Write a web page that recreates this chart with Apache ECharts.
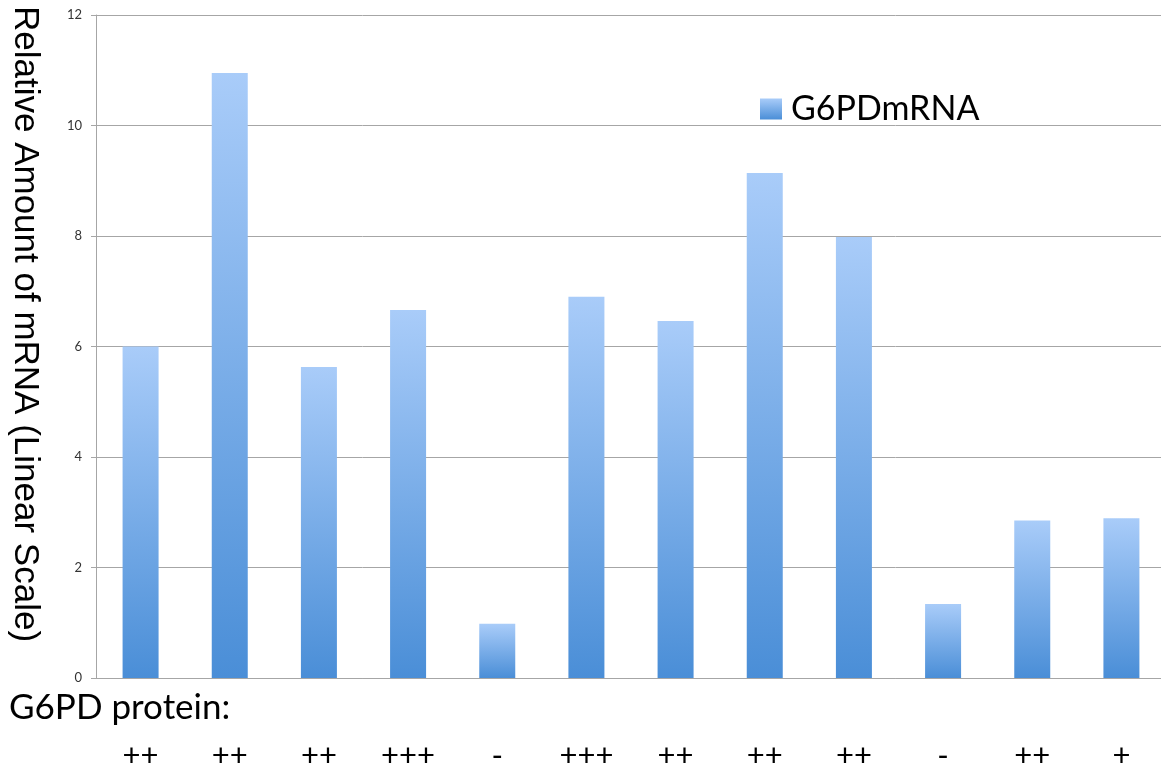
<!DOCTYPE html>
<html>
<head>
<meta charset="utf-8">
<title>G6PD mRNA</title>
<script src="https://cdn.jsdelivr.net/npm/echarts@6/dist/echarts.min.js"></script>
<style>
  html, body { margin: 0; padding: 0; background: #ffffff; overflow: hidden; }
  #chart { width: 1161px; height: 769px; }
</style>
</head>
<body>
<div id="chart"></div>
<script>
// G6PD protein level for each sample (x-axis labels)
const proteinLevels = ['++', '++', '++', '+++', '-', '+++', '++', '++', '++', '-', '++', '+'];
// Relative amount of G6PD mRNA per sample
const mrnaValues = [6.0, 10.95, 5.63, 6.66, 0.98, 6.90, 6.46, 9.14, 7.98, 1.34, 2.85, 2.89];
// Value axis ticks
const yTicks = [0, 2, 4, 6, 8, 10, 12];

const seriesName = 'G6PDmRNA';
const yTitle = 'Relative Amount of mRNA (Linear Scale)';
const xTitle = 'G6PD protein:';

const chart = echarts.init(document.getElementById('chart'), null, { renderer: 'canvas' });

const barFill = new echarts.graphic.LinearGradient(0, 0, 0, 1, [
  { offset: 0, color: '#a9ccf9' },
  { offset: 1, color: '#4a8ed7' }
]);

chart.setOption({
  backgroundColor: '#ffffff',
  animation: false,
  // the plot runs slightly past the right edge of the canvas
  grid: {
    left: 96, top: 15, width: 1070, height: 663,
    containLabel: false,
    outerBoundsMode: 'none'
  },
  legend: {
    data: [seriesName],
    left: 760,
    top: 92,
    padding: 0,
    itemWidth: 22,
    itemHeight: 21,
    itemGap: 10,
    icon: 'rect',
    textStyle: { fontFamily: 'Lato', fontSize: 34, color: '#000000', padding: [2, 0, 0, 4] }
  },
  xAxis: {
    type: 'category',
    data: proteinLevels,
    axisLine: { show: true, lineStyle: { color: '#a6a6a6', width: 1 } },
    axisTick: { show: false },
    axisLabel: {
      interval: 0,
      margin: 62,
      fontFamily: 'Lato',
      fontSize: 31,
      color: '#000000'
    },
    splitLine: { show: false }
  },
  yAxis: {
    type: 'value',
    min: yTicks[0],
    max: yTicks[yTicks.length - 1],
    interval: 2,
    axisLine: { show: true, lineStyle: { color: '#a6a6a6', width: 1 } },
    axisTick: { show: true, inside: false, length: 5, lineStyle: { color: '#a6a6a6' } },
    axisLabel: {
      margin: 14,
      fontFamily: 'Lato',
      fontSize: 13,
      color: '#333333'
    },
    splitLine: { show: true, lineStyle: { color: '#a6a6a6', width: 1 } }
  },
  graphic: [
    {
      type: 'text',
      x: 25,
      y: 324,
      rotation: -Math.PI / 2,
      style: {
        text: yTitle,
        fontFamily: 'Liberation Sans',
        fontSize: 35,
        fill: '#000000',
        align: 'center',
        verticalAlign: 'middle'
      }
    },
    {
      type: 'text',
      x: 9,
      y: 708,
      style: {
        text: xTitle,
        fontFamily: 'Lato',
        fontSize: 35,
        fill: '#000000',
        align: 'left',
        verticalAlign: 'middle'
      }
    }
  ],
  series: [
    {
      name: seriesName,
      type: 'bar',
      data: mrnaValues,
      barWidth: 36,
      itemStyle: { color: barFill }
    }
  ]
});
</script>
</body>
</html>
